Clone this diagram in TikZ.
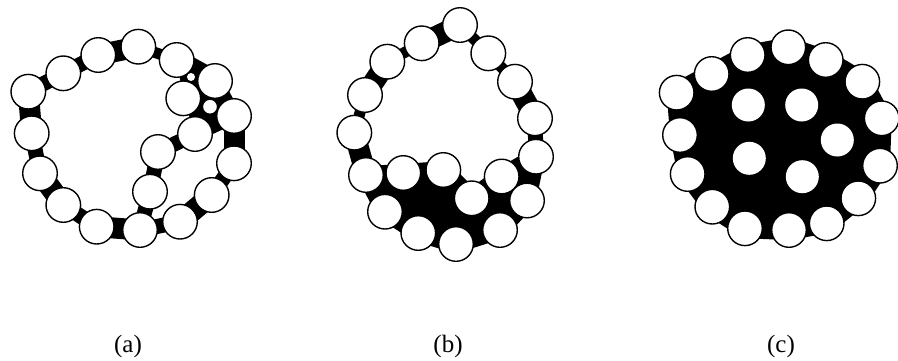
\documentclass[tikz,border=0pt]{standalone}
\usepackage{fontspec}
\setmainfont{Liberation Serif}
\pgfdeclarelayer{bg}
\pgfsetlayers{bg,main}
\tikzset{
  ball/.style={circle, draw=black, fill=white, line width=1.4pt, minimum size=34.6pt, inner sep=0pt},
  smallball/.style={circle, draw=black, fill=white, line width=1.2pt, minimum size=15pt, inner sep=0pt},
  tinyhole/.style={circle, fill=white, minimum size=8pt, inner sep=0pt},
  hole/.style={circle, fill=white, minimum size=33pt, inner sep=0pt},
  bondS/.style={draw=black, line width=11pt, line cap=butt},
  bondM/.style={draw=black, line width=15pt, line cap=butt},
  bondL/.style={draw=black, line width=21pt, line cap=butt},
  cluster/.style={fill=black, draw=black, line width=18pt, line join=round},
  lab/.style={font=\fontsize{25}{30}\selectfont, anchor=base, inner sep=0pt}
}
\begin{document}
\begin{tikzpicture}[x=1pt, y=-1pt]
\useasboundingbox (0,0) rectangle (898,360);
% ---------- panel (a) ----------
\node[ball] (a1) at (28.3,91.7) {};
\node[ball] (a2) at (63.3,73.3) {};
\node[ball] (a3) at (98.3,55) {};
\node[ball] (a4) at (138.3,46.7) {};
\node[ball] (a5) at (176.7,60) {};
\node[ball] (a6) at (215,81) {};
\node[ball] (a7) at (183.3,98.3) {};
\node[ball] (a8) at (234,116) {};
\node[ball] (a9) at (195,134) {};
\node[ball] (a10) at (158,152) {};
\node[ball] (a11) at (234,163.3) {};
\node[ball] (a12) at (211.7,195) {};
\node[ball] (a13) at (150,191.7) {};
\node[ball] (a14) at (180,221.7) {};
\node[ball] (a15) at (140,230) {};
\node[ball] (a16) at (96.7,226.7) {};
\node[ball] (a17) at (63.3,205) {};
\node[ball] (a18) at (40,173.3) {};
\node[ball] (a19) at (31.7,133.3) {};
\node[smallball] (as) at (210,106.7) {};
\node[tinyhole] (at) at (191,77) {};
\begin{pgfonlayer}{bg}
  \fill (a5.center) -- (a6.center) -- (a7.center) -- cycle;
  \fill (a6.center) -- (a7.center) -- (a9.center) -- (a8.center) -- cycle;
  \path[bondM] (a1.center) -- (a2.center);
  \path[bondM] (a2.center) -- (a3.center);
  \path[bondL] (a3.center) -- (a4.center);
  \path[bondS] (a4.center) -- (a5.center);
  \path[bondL] (a5.center) -- (a6.center);
  \path[bondM] (a6.center) -- (a8.center);
  \path[bondM] (a8.center) -- (a9.center);
  \path[bondL] (a8.center) -- (a11.center);
  \path[bondM] (a9.center) -- (a10.center);
  \path[bondM] (a10.center) -- (a13.center);
  \path[bondM] (a11.center) -- (a12.center);
  \path[bondL] (a12.center) -- (a14.center);
  \path[bondM] (a13.center) -- (a15.center);
  \path[bondM] (a14.center) -- (a15.center);
  \path[bondL] (a15.center) -- (a16.center);
  \path[bondM] (a16.center) -- (a17.center);
  \path[bondL] (a17.center) -- (a18.center);
  \path[bondM] (a18.center) -- (a19.center);
  \path[bondL] (a19.center) -- (a1.center);
\end{pgfonlayer}
% ---------- panel (b) ----------
\node[ball] (b1) at (460,25) {};
\node[ball] (b2) at (421.7,43.3) {};
\node[ball] (b3) at (387.3,61.7) {};
\node[ball] (b4) at (365,95) {};
\node[ball] (b5) at (354.3,132.7) {};
\node[ball] (b6) at (366,175) {};
\node[ball] (b7) at (403.3,173) {};
\node[ball] (b8) at (443.3,170) {};
\node[ball] (b9) at (471.7,198.3) {};
\node[ball] (b10) at (501.7,176.5) {};
\node[ball] (b11) at (536,156.7) {};
\node[ball] (b12) at (535,118.3) {};
\node[ball] (b13) at (515,81.7) {};
\node[ball] (b14) at (488.3,53.3) {};
\node[ball] (b15) at (385,211.7) {};
\node[ball] (b16) at (418.3,233) {};
\node[ball] (b17) at (456,244) {};
\node[ball] (b18) at (500,230) {};
\node[ball] (b19) at (527,200.5) {};
\begin{pgfonlayer}{bg}
  \path[cluster] (b6.center) -- (b7.center) -- (b8.center) -- (b9.center) -- (b10.center)
     -- (b11.center) -- (b19.center) -- (b18.center) -- (b17.center) -- (b16.center)
     -- (b15.center) -- cycle;
  \path[bondL] (b1.center) -- (b2.center);
  \path[bondS] (b2.center) -- (b3.center);
  \path[bondL] (b3.center) -- (b4.center);
  \path[bondS] (b4.center) -- (b5.center);
  \path[bondL] (b5.center) -- (b6.center);
  \path[bondS] (b1.center) -- (b14.center);
  \path[bondS] (b14.center) -- (b13.center);
  \path[bondL] (b13.center) -- (b12.center);
  \path[bondM] (b12.center) -- (b11.center);
\end{pgfonlayer}
% ---------- panel (c) ----------
\node[ball] (c1) at (676.7,92.7) {};
\node[ball] (c2) at (711.7,74) {};
\node[ball] (c3) at (747.7,55) {};
\node[ball] (c4) at (788.3,47.3) {};
\node[ball] (c5) at (825.7,60) {};
\node[ball] (c6) at (862.3,81.7) {};
\node[ball] (c7) at (881.7,118.3) {};
\node[ball] (c8) at (880,165.7) {};
\node[ball] (c9) at (858.3,198.3) {};
\node[ball] (c10) at (826.7,223.3) {};
\node[ball] (c11) at (789,230) {};
\node[ball] (c12) at (745,228.3) {};
\node[ball] (c13) at (712.3,206.7) {};
\node[ball] (c14) at (687.7,174) {};
\node[ball] (c15) at (680,135) {};
\node[hole] (c16) at (748.3,105) {};
\node[hole] (c17) at (801.7,105) {};
\node[hole] (c18) at (837.3,140) {};
\node[hole] (c19) at (749.3,158.3) {};
\node[hole] (c20) at (802.3,176.7) {};
\begin{pgfonlayer}{bg}
  \path[cluster, line width=20pt] (c1.center) -- (c2.center) -- (c3.center) -- (c4.center) -- (c5.center)
     -- (c6.center) -- (c7.center) -- (c8.center) -- (c9.center) -- (c10.center)
     -- (c11.center) -- (c12.center) -- (c13.center) -- (c14.center) -- (c15.center) -- cycle;
\end{pgfonlayer}
% ---------- labels ----------
\node[lab] (la) at (128,352.5) {(a)};
\node[lab] (lb) at (448,352.5) {(b)};
\node[lab] (lc) at (781,352.5) {(c)};
\end{tikzpicture}
\end{document}
